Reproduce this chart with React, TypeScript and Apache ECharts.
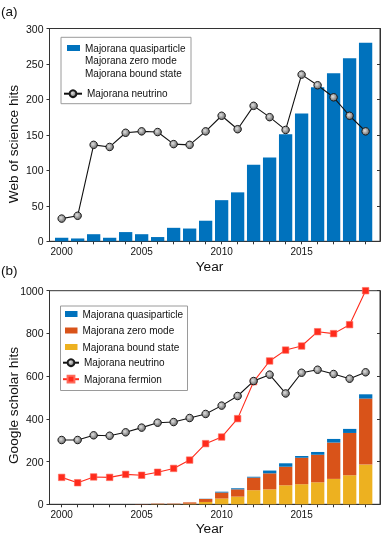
import React, { useEffect, useRef } from 'react';
import * as echarts from 'echarts';

// ---- data ----
const years = [2000, 2001, 2002, 2003, 2004, 2005, 2006, 2007, 2008, 2009, 2010, 2011, 2012, 2013, 2014, 2015, 2016, 2017, 2018, 2019];
const yearLabels = [2000, 2005, 2010, 2015];

// (a) Web of science
const wosQuasi = [5, 4, 10, 5, 13, 10, 6, 19, 18, 29, 58, 69, 108, 118, 151, 180, 217, 237, 258, 280];
const wosNeutrino = [32, 36, 136, 133, 153, 155, 154, 137, 136, 155, 177, 158, 191, 175, 157, 235, 220, 203, 177, 155];

// (b) Google scholar
const gsQuasi = [0, 0, 0, 0, 0, 0, 0, 0, 0, 1, 4, 5, 4, 13, 16, 8, 13, 17, 19, 20];
const gsZero = [0, 0, 0, 0, 0, 1, 2, 2, 6, 14, 28, 34, 59, 75, 87, 124, 129, 170, 198, 309];
const gsBound = [0, 0, 0, 0, 0, 0, 1, 1, 3, 11, 27, 36, 66, 70, 89, 94, 103, 119, 136, 186];
const gsNeutrino = [301, 301, 323, 321, 337, 359, 382, 385, 404, 423, 462, 507, 577, 607, 519, 616, 630, 610, 588, 618];
const gsFermion = [126, 101, 128, 126, 140, 136, 150, 168, 207, 284, 315, 401, 574, 671, 722, 741, 808, 799, 841, 1000];

const N_QUASI = 'Majorana quasiparticle';
const N_ZERO = 'Majorana zero mode';
const N_BOUND = 'Majorana bound state';
const N_NEUT = 'Majorana neutrino';
const N_FERM = 'Majorana fermion';

export default function App() {
  const ref = useRef<HTMLDivElement>(null);
  useEffect(() => {
    const chart = echarts.init(ref.current!, null, { renderer: 'svg' });
    const FONT = '"Liberation Sans", Arial, sans-serif';
    const AX = '#333';
    const TXT = '#111';
    const BLUE = '#0072BD';
    const ORANGE = '#D95319';
    const YELLOW = '#EDB120';
    const RED = '#ff2b1c';
    const pair = (vals: number[]) => years.map((y, i) => [y, vals[i]]);
    const grayBall = {
      type: 'radial', x: 0.4, y: 0.4, r: 0.6,
      colorStops: [{ offset: 0, color: '#e0e0e0' }, { offset: 1, color: '#6e6e6e' }],
    };

    const xAxis = (gridIndex: number) => ({
      type: 'value', gridIndex, min: 1999.24, max: 2019.9,
      splitLine: { show: false },
      axisLine: { show: true, onZero: false, lineStyle: { color: AX, width: 1 } },
      axisTick: { show: true, inside: false, length: 3, customValues: years, lineStyle: { color: AX } },
      axisLabel: {
        customValues: yearLabels, fontSize: 10, lineHeight: 11, color: TXT, margin: 5, fontFamily: FONT,
        formatter: (v: number) => String(v),
      },
    });
    const yLeft = (gridIndex: number, max: number, interval: number) => ({
      type: 'value', gridIndex, min: 0, max, interval, position: 'left',
      splitLine: { show: false },
      axisLine: { show: true, lineStyle: { color: AX, width: 1 } },
      axisTick: { show: true, inside: false, length: 3, lineStyle: { color: AX } },
      axisLabel: { fontSize: 10.5, color: TXT, margin: 6, fontFamily: FONT, formatter: (v: number) => String(v) },
    });
    const yRight = (gridIndex: number, max: number, interval: number) => ({
      type: 'value', gridIndex, min: 0, max, interval, position: 'right',
      splitLine: { show: false },
      axisLine: { show: true, lineStyle: { color: AX, width: 1 } },
      axisTick: { show: true, inside: true, length: 3, lineStyle: { color: AX } },
      axisLabel: { show: false },
    });

    const legendCommon = {
      orient: 'vertical', padding: 0, selectedMode: false,
      textStyle: { fontSize: 10, color: TXT, fontFamily: FONT, lineHeight: 12 },
    };

    const option: any = {
      animation: false,
      textStyle: { fontFamily: FONT },
      grid: [
        { left: 49.5, top: 28.5, width: 330.5, height: 212.8, show: true, borderColor: AX, borderWidth: 1 },
        { left: 49.5, top: 290.7, width: 330.5, height: 213.6, show: true, borderColor: AX, borderWidth: 1 },
        // hidden band grid for the stacked bars: one 16px band per year, centred on the year ticks
        { left: 53.7, top: 290.7, width: 320, height: 213.6, show: false },
      ],
      xAxis: [
        xAxis(0), xAxis(1),
        { type: 'category', gridIndex: 2, data: years.map(String), boundaryGap: true, show: false },
      ],
      yAxis: [
        yLeft(0, 300, 50), yRight(0, 300, 50), yLeft(1, 1000, 200), yRight(1, 1000, 200),
        { type: 'value', gridIndex: 2, min: 0, max: 1000, show: false, splitLine: { show: false } },
      ],
      legend: [
        { ...legendCommon, left: 67, top: 42, itemWidth: 13, itemHeight: 6, icon: 'rect', data: [N_QUASI] },
        {
          ...legendCommon, left: 67, top: 54.7, itemWidth: 13, itemHeight: 6, itemGap: 0.7,
          data: [{ name: N_ZERO, icon: 'none' }, { name: N_BOUND, icon: 'none' }],
        },
        { ...legendCommon, left: 63, top: 87.7, itemWidth: 18, itemHeight: 8.5, data: [N_NEUT] },
        { ...legendCommon, left: 65, top: 308, itemWidth: 12.5, itemHeight: 6, itemGap: 4.5, icon: 'rect', data: [N_QUASI, N_ZERO, N_BOUND] },
        { ...legendCommon, left: 62, top: 356.7, itemWidth: 16, itemHeight: 8.5, itemGap: 4.5, data: [N_NEUT, N_FERM] },
      ],
      graphic: [
        { type: 'rect', shape: { x: 61, y: 37.3, width: 130, height: 66.4 }, style: { fill: 'rgba(0,0,0,0)', stroke: '#9a9a9a', lineWidth: 1 }, silent: true },
        { type: 'rect', shape: { x: 60.5, y: 306, width: 127, height: 84.5 }, style: { fill: 'rgba(0,0,0,0)', stroke: '#9a9a9a', lineWidth: 1 }, silent: true },
        { type: 'text', x: 1, y: 11, style: { text: '(a)', fontSize: 13.5, fontFamily: FONT, fill: TXT, textAlign: 'left', textVerticalAlign: 'middle', align: 'left', verticalAlign: 'middle' } },
        { type: 'text', x: 1, y: 270, style: { text: '(b)', fontSize: 13.5, fontFamily: FONT, fill: TXT, textAlign: 'left', textVerticalAlign: 'middle', align: 'left', verticalAlign: 'middle' } },
        { type: 'text', x: 209.5, y: 266.5, style: { text: 'Year', fontSize: 13.7, fontFamily: FONT, fill: TXT, textAlign: 'center', textVerticalAlign: 'middle', align: 'center', verticalAlign: 'middle' } },
        { type: 'text', x: 209.5, y: 528.8, style: { text: 'Year', fontSize: 13.7, fontFamily: FONT, fill: TXT, textAlign: 'center', textVerticalAlign: 'middle', align: 'center', verticalAlign: 'middle' } },
        { type: 'text', x: 13, y: 144, rotation: Math.PI / 2, style: { text: 'Web of science hits', fontSize: 13.7, fontFamily: FONT, fill: TXT, textAlign: 'center', textVerticalAlign: 'middle', align: 'center', verticalAlign: 'middle' } },
        { type: 'text', x: 13, y: 405.5, rotation: Math.PI / 2, style: { text: 'Google scholar hits', fontSize: 13.7, fontFamily: FONT, fill: TXT, textAlign: 'center', textVerticalAlign: 'middle', align: 'center', verticalAlign: 'middle' } },
      ],
      series: [
        {
          type: 'bar', name: N_QUASI, xAxisIndex: 0, yAxisIndex: 0, data: pair(wosQuasi),
          barWidth: 13.3, itemStyle: { color: BLUE }, z: 2,
        },
        {
          type: 'line', name: N_NEUT, xAxisIndex: 0, yAxisIndex: 0, data: pair(wosNeutrino),
          symbol: 'circle', symbolSize: 7.5, showAllSymbol: true,
          lineStyle: { color: '#111', width: 1.1 },
          itemStyle: { color: grayBall, borderColor: '#1a1a1a', borderWidth: 1 }, z: 3,
        },
        {
          type: 'bar', name: N_BOUND, xAxisIndex: 2, yAxisIndex: 4, data: gsBound, stack: 'gs',
          barWidth: 13.3, itemStyle: { color: YELLOW }, z: 2,
        },
        {
          type: 'bar', name: N_ZERO, xAxisIndex: 2, yAxisIndex: 4, data: gsZero, stack: 'gs',
          barWidth: 13.3, itemStyle: { color: ORANGE }, z: 2,
        },
        {
          type: 'bar', name: N_QUASI, xAxisIndex: 2, yAxisIndex: 4, data: gsQuasi, stack: 'gs',
          barWidth: 13.3, itemStyle: { color: BLUE }, z: 2,
        },
        {
          type: 'line', name: N_FERM, xAxisIndex: 1, yAxisIndex: 2, data: pair(gsFermion),
          symbol: 'rect', symbolSize: 6.5, showAllSymbol: true,
          lineStyle: { color: RED, width: 1.1 },
          itemStyle: { color: RED, borderColor: '#ff6a5a', borderWidth: 0.6 }, z: 3,
        },
        {
          type: 'line', name: N_NEUT, xAxisIndex: 1, yAxisIndex: 2, data: pair(gsNeutrino),
          symbol: 'circle', symbolSize: 7.5, showAllSymbol: true,
          lineStyle: { color: '#111', width: 1.1 },
          itemStyle: { color: grayBall, borderColor: '#1a1a1a', borderWidth: 1 }, z: 4,
        },
      ],
    };
    chart.setOption(option);
    return () => chart.dispose();
  }, []);
  return <div ref={ref} style={{ position: 'fixed', left: 0, top: 0, width: 381, height: 538 }} />;
}
